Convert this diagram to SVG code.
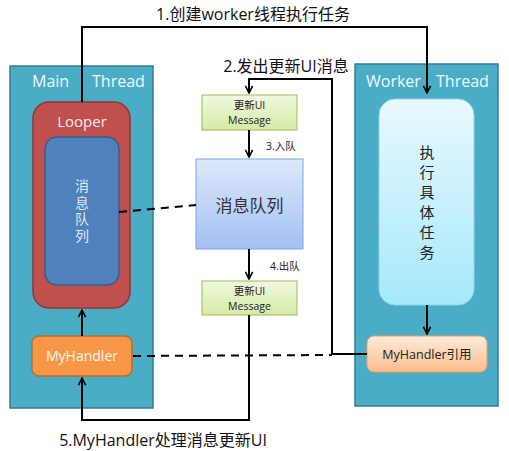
<svg xmlns="http://www.w3.org/2000/svg" width="509" height="451" viewBox="0 0 509 451">
<defs>
<linearGradient id="gGreen" x1="0" y1="0" x2="0" y2="1"><stop offset="0" stop-color="#f0f8e0"/><stop offset="1" stop-color="#d5eaa6"/></linearGradient>
<linearGradient id="gBlue" x1="0" y1="0" x2="0" y2="1"><stop offset="0" stop-color="#dde8fb"/><stop offset="1" stop-color="#a3c0f2"/></linearGradient>
<linearGradient id="gCyan" x1="0" y1="0" x2="0" y2="1"><stop offset="0" stop-color="#e8f9fe"/><stop offset="1" stop-color="#a6e8fb"/></linearGradient>
<linearGradient id="gOrange" x1="0" y1="0" x2="0" y2="1"><stop offset="0" stop-color="#fdebdc"/><stop offset="1" stop-color="#fbbd8a"/></linearGradient>
<marker id="arr" viewBox="0 0 10 10" refX="9" refY="5" markerWidth="9" markerHeight="9" markerUnits="userSpaceOnUse" orient="auto"><path d="M1,1 L9,5 L1,9" fill="none" stroke="#000" stroke-width="1.8"/></marker>
</defs>
<style>
.panel{fill:#4bacc6;stroke:#357d91;stroke-width:1.5}
.hdr{font-family:"Open Sans","Liberation Sans",sans-serif;font-size:16px;fill:#eef8fb}
.cn{font-family:"Noto Sans CJK SC","Liberation Sans",sans-serif}
.vert{writing-mode:vertical-rl;text-orientation:upright}
.lbl{font-family:"Open Sans","Noto Sans CJK SC",sans-serif;font-size:16px;fill:#111}
.small{font-family:"Open Sans","Noto Sans CJK SC",sans-serif;font-size:10.5px;fill:#222}
.line{fill:none;stroke:#000;stroke-width:2}
.dash{fill:none;stroke:#000;stroke-width:2;stroke-dasharray:8,6}
</style>
<g id="main-thread">
<rect class="panel" x="10" y="66" width="143" height="342"/>
<text class="hdr" x="32" y="87">Main</text>
<text class="hdr" x="92" y="87">Thread</text>
</g>
<g id="worker-thread">
<rect class="panel" x="355" y="64" width="143" height="342"/>
<text class="hdr" x="366" y="87">Worker</text>
<text class="hdr" x="436" y="87">Thread</text>
</g>
<g id="looper">
<rect x="33" y="102" width="97" height="206" rx="16" fill="#c0504d" stroke="#8c3836" stroke-width="1.5"/>
<text x="82" y="127" text-anchor="middle" font-family="Open Sans,Liberation Sans,sans-serif" font-size="15" fill="#f6eaea">Looper</text>
</g>
<g id="inner-queue">
<rect x="45" y="137" width="74" height="148" rx="12" fill="#4f81bd" stroke="#385d8a" stroke-width="1.5"/>
<text class="cn vert" x="82" y="212" font-size="14" letter-spacing="2.5" fill="#dfe8f3" text-anchor="middle">消息队列</text>
</g>
<g id="myhandler">
<rect x="32" y="336" width="100" height="40" rx="7" fill="#f79646" stroke="#b66d31" stroke-width="1.5"/>
<text x="82" y="361" text-anchor="middle" font-family="Open Sans,Liberation Sans,sans-serif" font-size="14" fill="#fff7ee">MyHandler</text>
</g>
<g id="msg1">
<rect x="202" y="95" width="95" height="35" fill="url(#gGreen)" stroke="#9bbb59" stroke-width="1"/>
<text class="small" text-anchor="middle"><tspan x="249.5" y="109">更新UI</tspan><tspan x="249.5" y="124">Message</tspan></text>
</g>
<g id="queue">
<rect x="196" y="159" width="107" height="90" fill="url(#gBlue)" stroke="#7ea6e0" stroke-width="1"/>
<text class="cn" x="249.5" y="212" text-anchor="middle" font-size="17" fill="#333">消息队列</text>
</g>
<g id="msg2">
<rect x="202" y="281" width="95" height="34" fill="url(#gGreen)" stroke="#9bbb59" stroke-width="1"/>
<text class="small" text-anchor="middle"><tspan x="249.5" y="295">更新UI</tspan><tspan x="249.5" y="310">Message</tspan></text>
</g>
<g id="task">
<rect x="379" y="99" width="95" height="206" rx="16" fill="url(#gCyan)" stroke="#8fd6ea" stroke-width="1"/>
<text class="cn vert" x="427" y="205" font-size="15" letter-spacing="5" fill="#222" text-anchor="middle">执行具体任务</text>
</g>
<g id="myhandler-ref">
<rect x="367" y="336" width="120" height="36" rx="7" fill="url(#gOrange)" stroke="#f0a060" stroke-width="1"/>
<text x="427" y="359" text-anchor="middle" font-family="Open Sans,Noto Sans CJK SC,sans-serif" font-size="12.5" fill="#222">MyHandler引用</text>
</g>
<g id="connectors">
<polyline class="line" points="82,102 82,27 427,27 427,93" marker-end="url(#arr)"/>
<polyline class="line" points="367,354 332,354 332,79 249,79 249,93" marker-end="url(#arr)"/>
<line class="line" x1="249" y1="130" x2="249" y2="157" marker-end="url(#arr)"/>
<line class="line" x1="249" y1="249" x2="249" y2="279" marker-end="url(#arr)"/>
<polyline class="line" points="249,315 249,420 82,420 82,378" marker-end="url(#arr)"/>
<line class="line" x1="82" y1="336" x2="82" y2="310" marker-end="url(#arr)"/>
<line class="line" x1="427" y1="305" x2="427" y2="334" marker-end="url(#arr)"/>
<line class="dash" x1="119" y1="212" x2="196" y2="205"/>
<line class="dash" x1="133" y1="356" x2="332" y2="355"/>
<text class="lbl" x="253" y="20" text-anchor="middle">1.创建worker线程执行任务</text>
<text class="lbl" x="286" y="72" text-anchor="middle">2.发出更新UI消息</text>
<text class="small" x="266" y="150">3.入队</text>
<text class="small" x="270" y="270">4.出队</text>
<text class="lbl" x="163" y="446" text-anchor="middle">5.MyHandler处理消息更新UI</text>
</g>
</svg>
